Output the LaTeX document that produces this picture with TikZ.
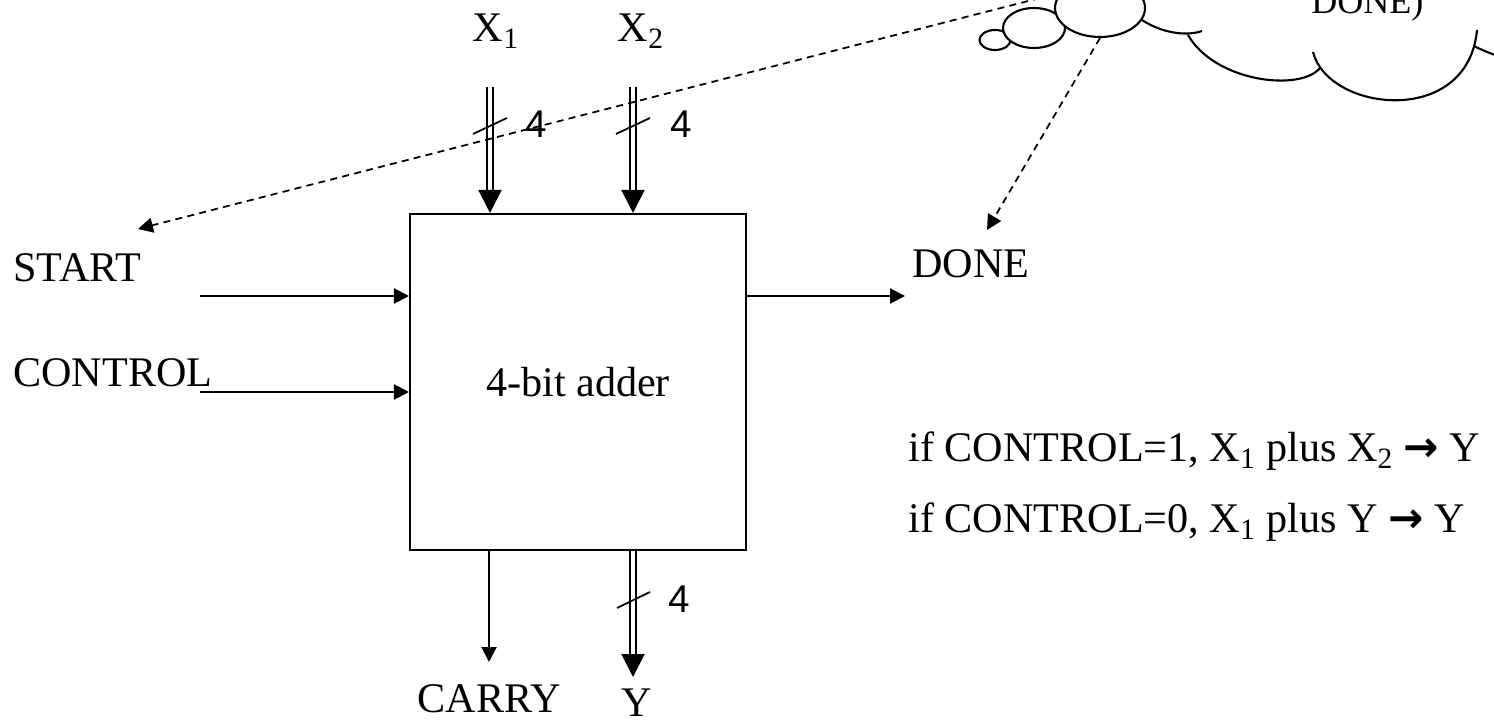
\documentclass[tikz,border=0pt]{standalone}
\usepackage{fontspec}
\setmainfont{Liberation Serif}
\newfontfamily\digitfont{Liberation Sans}
\newfontfamily\arrowfont{DejaVu Sans}
\usetikzlibrary{arrows.meta}
\newcommand{\subidx}[1]{\textsubscript{#1}}

\begin{document}
\begin{tikzpicture}[x=0.02cm, y=-0.02cm,
	every node/.style={font=\fontsize{24}{28}\selectfont, inner sep=0pt},
	>={Triangle[length=3mm, width=3mm]},
	wire/.style={->, line width=1.2pt},
	bus/.style={double, double distance=2pt, line width=1.1pt, -{Triangle[length=4.6mm, width=4.6mm]}},
	hint/.style={->, line width=1pt, dash pattern=on 4pt off 3pt},
	width4/.style={font=\digitfont\fontsize{22}{26}\selectfont, anchor=base west}]
	\clip (0,0) rectangle (1494,722);
	% the adder block
	\node[draw, line width=1.2pt, minimum width=6.72cm, minimum height=6.72cm] (adder) at (578,382) {4-bit adder};
	% inputs on top
	\coordinate (X1in) at (490,87);
	\coordinate (X2in) at (633,87);
	\node[anchor=base] (X1) at (496,42) {X\subidx{1}};
	\node[anchor=base] (X2) at (641,42) {X\subidx{2}};
	\draw[bus] (X1in) -- (X1in |- adder.north);
	\draw[bus] (X2in) -- (X2in |- adder.north);
	\draw[line width=1pt] ([shift={(-17,47)}]X1in) -- ++(34,-16);
	\draw[line width=1pt] ([shift={(-17,47)}]X2in) -- ++(34,-16);
	\node[width4] (w1) at (525,138) {4};
	\node[width4] (w2) at (670,138) {4};
	% control signals
	\node[anchor=base west] (start) at (13,282) {START};
	\node[anchor=base west] (control) at (13,387) {CONTROL};
	\coordinate (startin) at (200,296);
	\coordinate (controlin) at (200,392);
	\draw[wire] (startin) -- (startin -| adder.west);
	\draw[wire] (controlin) -- (controlin -| adder.west);
	\node[anchor=base west] (done) at (912,278) {DONE};
	\coordinate (doneout) at (905,296);
	\draw[wire] (doneout -| adder.east) -- (doneout);
	% outputs at the bottom
	\coordinate (carryout) at (489,662);
	\coordinate (Yout) at (633,677);
	\draw[wire] (carryout |- adder.south) -- (carryout);
	\draw[bus] (Yout |- adder.south) -- (Yout);
	\draw[line width=1pt] ([shift={(-16,-69)}]Yout) -- ++(33,-16);
	\node[width4] (w3) at (668,612) {4};
	\node[anchor=base] (carry) at (489,712) {CARRY};
	\node[anchor=base] (Y) at (637,716) {Y};
	% what the block does
	\node[anchor=base west] (rule1) at (908,462) {if CONTROL=1, X\subidx{1} plus X\subidx{2} {\arrowfont\bfseries →} Y};
	\node[anchor=base west] (rule2) at (908,533) {if CONTROL=0, X\subidx{1} plus Y {\arrowfont\bfseries →} Y};
	% thought cloud
	\coordinate (cloudL) at (1040,-2);
	\coordinate (cloudB) at (1100,38);
	\coordinate (starttip) at (138,229);
	\coordinate (donetip) at (987,230);
	\draw[hint] (cloudL) -- (starttip);
	\draw[hint] (cloudB) -- (donetip);
	\draw[line width=1.2pt, fill=white] (995,40) ellipse (15.5 and 10);
	\draw[line width=1.2pt, fill=white] (1034,28) ellipse (31 and 20);
	\draw[line width=1.2pt, fill=white] (1100,8) ellipse (45 and 29);
	\draw[line width=1.2pt] (1142,20) .. controls (1160,32) and (1185,37) .. (1202,31);
	\draw[line width=1.2pt] (1188,35) .. controls (1215,82) and (1300,92) .. (1320,68);
	\draw[line width=1.2pt] (1313,52) .. controls (1328,112) and (1468,128) .. (1477,30);
	\draw[line width=1.2pt] (1474,46) .. controls (1482,50) .. (1500,57);
	\node[anchor=base west, font=\fontsize{20.5}{24}\selectfont] (cloudtext) at (1311,14) {DONE)};
\end{tikzpicture}
\end{document}
